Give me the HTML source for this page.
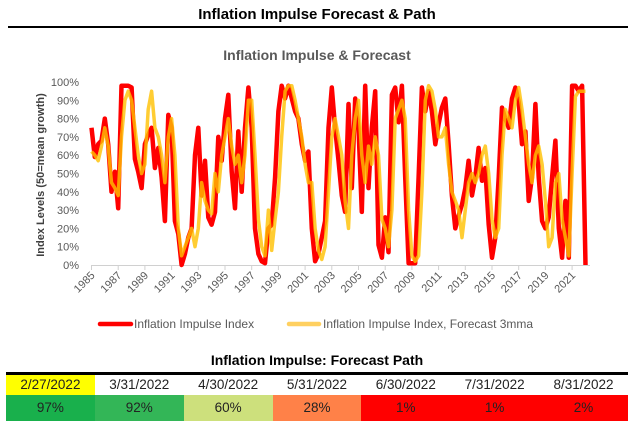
<!DOCTYPE html>
<html><head><meta charset="utf-8"><style>
body{margin:0;width:634px;height:423px;background:#fff;font-family:"Liberation Sans",sans-serif;overflow:hidden;position:relative}
.t{position:absolute;text-align:center}
table{position:absolute;left:6px;top:372px;width:622px;border-collapse:collapse;border-top:3px solid #000;table-layout:fixed}
td{text-align:center;font-size:13.5px;color:#222;padding:0}
</style></head><body>
<div class="t" style="left:0;width:634px;top:6px;font-size:15px;font-weight:bold">Inflation Impulse Forecast &amp; Path</div>
<div style="position:absolute;left:8px;top:26px;width:620px;height:2px;background:#000"></div>
<svg id="chart" width="634" height="340" style="position:absolute;left:0;top:0"></svg>
<div class="t" style="left:0;width:634px;top:352px;font-size:14px;font-weight:bold">Inflation Impulse: Forecast Path</div>
<table>
<tr style="height:21px"><td style="background:#ffff00">2/27/2022</td><td>3/31/2022</td><td>4/30/2022</td><td>5/31/2022</td><td>6/30/2022</td><td>7/31/2022</td><td>8/31/2022</td></tr>
<tr style="height:26px"><td style="background:#19b04c">97%</td><td style="background:#33b657">92%</td><td style="background:#cde07c">60%</td><td style="background:#ff8148">28%</td><td style="background:#ff0000">1%</td><td style="background:#ff0000">1%</td><td style="background:#ff0000">2%</td></tr>
</table>
<script>
const startYear=1985;
const yTicks=[0,10,20,30,40,50,60,70,80,90,100];
const xTickYears=[1985,1987,1989,1991,1993,1995,1997,1999,2001,2003,2005,2007,2009,2011,2013,2015,2017,2019,2021];
const impulse=[75,59,66,68,80,66,40,51,31,98,98,98,97,58,51,42,66,71,75,53,64,48,24,82,75,24,17,0,6,15,20,60,75,38,57,26,22,29,70,57,80,93,51,31,73,40,75,97,75,20,6,2,1,20,22,48,84,98,91,98,91,84,80,66,57,62,20,2,6,15,24,75,97,75,57,38,29,88,42,91,75,29,98,42,75,95,11,4,26,7,93,97,78,98,48,1,1,1,48,97,84,95,84,66,77,86,91,66,38,20,27,33,42,57,38,48,64,46,53,22,4,15,48,86,80,75,91,97,89,66,73,35,48,88,48,24,20,26,48,68,20,4,35,4,98,98,95,98,0];
const forecast=[62,60,57,65,75,65,45,42,38,70,90,95,90,75,60,50,55,85,95,75,70,60,45,70,80,60,20,5,10,15,20,10,20,45,35,30,28,50,40,60,70,80,65,55,60,45,60,90,90,60,25,10,5,30,8,25,40,70,95,98,98,90,80,70,55,45,45,20,8,3,10,40,70,80,70,60,35,20,60,80,90,60,45,65,55,70,60,25,20,10,30,80,85,90,80,30,5,2,5,40,90,98,95,85,70,70,75,55,40,35,30,15,30,45,50,45,50,60,65,50,25,15,20,60,85,80,75,90,97,85,70,55,45,60,65,55,35,10,15,45,50,25,15,5,50,92,95,95,95];
const svg=document.getElementById('chart');const NS='http://www.w3.org/2000/svg';
const X=y=>91.5+(y-1985)*13.35, Y=v=>265-v*1.83;
function mk(t,a,p){const e=document.createElementNS(NS,t);for(const k in a)e.setAttribute(k,a[k]);(p||svg).appendChild(e);return e;}
let e=mk('text',{x:317,y:60,'text-anchor':'middle','font-size':'14','font-weight':'bold',fill:'#595959'});e.textContent='Inflation Impulse & Forecast';


e=mk('text',{x:0,y:0,transform:'translate(44,175) rotate(-90)','text-anchor':'middle','font-size':'11','font-weight':'bold',fill:'#404040'});e.textContent='Index Levels (50=mean growth)';


yTicks.forEach(v=>{const t=mk('text',{x:79,y:Y(v)+4,'text-anchor':'end','font-size':'11',fill:'#595959'});t.textContent=v+'%';

});
e=mk('line',{x1:91.5,x2:590,y1:265.5,y2:265.5,stroke:'#d0d0d0'});


xTickYears.forEach(yr=>{const x=X(yr);mk('line',{x1:x,x2:x,y1:265,y2:270,stroke:'#d0d0d0'});
const t=mk('text',{x:0,y:0,transform:`translate(${x+4},${276}) rotate(-45)`,'text-anchor':'end','font-size':'11',fill:'#595959'});t.textContent=yr;

});
function path(arr){return arr.map((v,i)=>(i?'L':'M')+X(startYear+i/4).toFixed(1)+' '+Y(v).toFixed(1)).join(' ');}
e=mk('path',{d:path(impulse),fill:'none',stroke:'#ff0000','stroke-width':4.5,'stroke-linejoin':'round'});


e=mk('path',{d:path(forecast),fill:'none',stroke:'#ffc000','stroke-width':3.5,'stroke-opacity':0.8,'stroke-linejoin':'round'});


e=mk('line',{x1:100,x2:131,y1:324,y2:324,stroke:'#ff0000','stroke-width':4.5,'stroke-linecap':'round'});


e=mk('text',{x:134,y:328,'font-size':'12',fill:'#595959'});e.textContent='Inflation Impulse Index';


e=mk('line',{x1:289,x2:319,y1:324,y2:324,stroke:'#ffd060','stroke-width':4.5,'stroke-linecap':'round'});


e=mk('text',{x:323,y:328,'font-size':'12',fill:'#595959'});e.textContent='Inflation Impulse Index, Forecast 3mma';


</script>
</body></html>
